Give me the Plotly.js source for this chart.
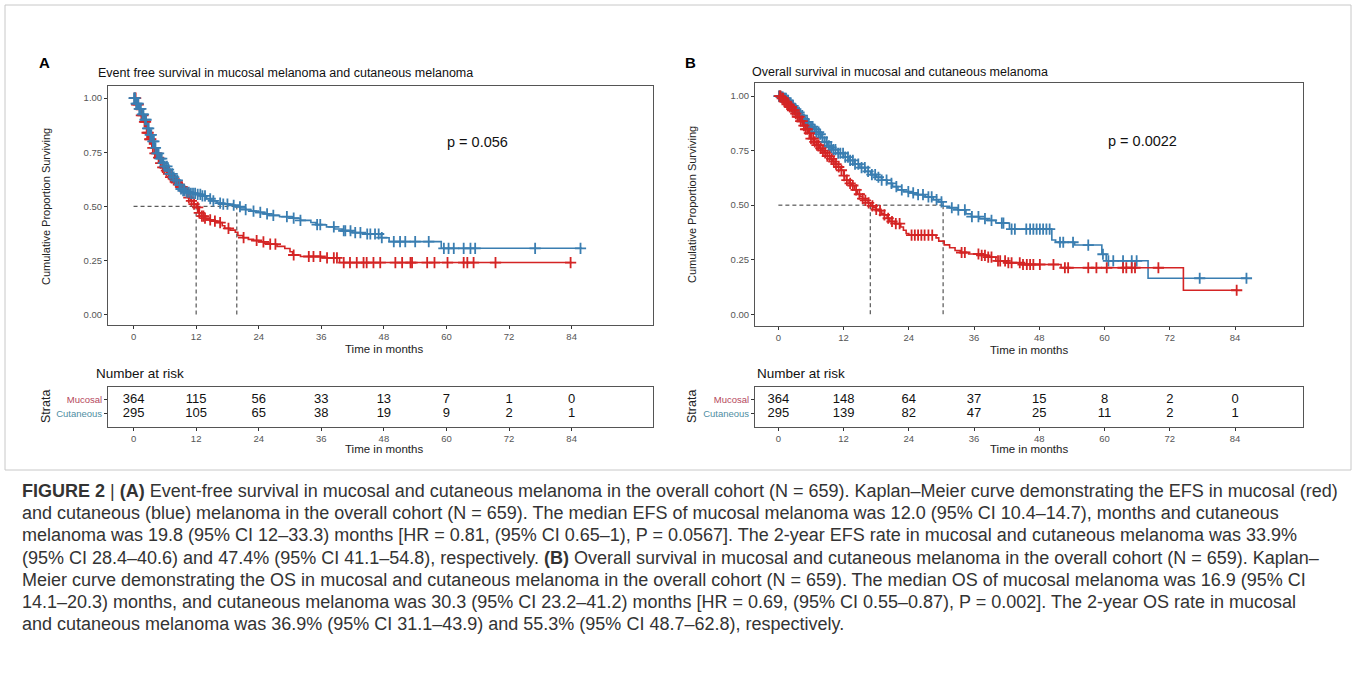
<!DOCTYPE html>
<html>
<head>
<meta charset="utf-8">
<script src="https://cdn.plot.ly/plotly-3.0.1.min.js"></script>
<style>
html,body{margin:0;padding:0;background:#fff;}
#chart{width:1356px;height:674px;}
</style>
</head>
<body>
<div id="chart"></div>
<script>
// ---------------- DATA ----------------
// Panel A: Event free survival (KM step points: time in months, survival)
const efsMucosalTime = [0,0.5,1,1.5,2,2.5,3,3.5,4,4.5,5,5.5,6,6.5,7,7.5,8,8.5,9,9.5,10,10.5,11,11.5,12,12.5,13,13.5,14,15,16,17,17.5,18.5,19.5,20,21,22,23,24,25,26,27.5,29,30,30.5,32,36,39.5,84];
const efsMucosalSurv = [1,0.97,0.95,0.92,0.89,0.84,0.81,0.77,0.745,0.725,0.70,0.68,0.665,0.65,0.635,0.625,0.61,0.60,0.59,0.578,0.565,0.54,0.525,0.51,0.495,0.47,0.455,0.445,0.437,0.432,0.425,0.41,0.398,0.39,0.38,0.365,0.355,0.347,0.342,0.336,0.33,0.325,0.315,0.305,0.29,0.275,0.268,0.262,0.24,0.24];
const efsMucosalCensor = [0.2,0.4,0.6,0.9,1.2,1.5,1.8,2.1,2.3,2.6,2.8,3.1,3.3,3.7,4.1,4.4,4.8,5.2,5.6,5.9,6.3,6.7,7.1,7.4,7.8,8.2,8.6,9.0,9.3,9.7,10.2,10.6,11.1,11.6,12.3,12.6,13.1,13.4,13.7,14.7,15.6,16.6,18.2,21.1,23.6,24.9,26.2,27.2,30.7,33.6,34.5,35.8,37.1,38.4,39,40.3,41.5,42.8,44.1,44.7,46,47.3,50.2,51.5,53.1,53.4,56.3,57.7,60.2,63.3,64,65.2,69.4,83.8];

const efsCutaneousTime = [0,0.5,1,1.5,2,2.5,3,3.5,4,4.5,5,5.5,6,6.5,7,7.5,8,8.5,9,9.5,10,11,12,13,14,15,16,17,18.5,19.5,20.5,21.5,22.5,23.5,25,26,28,30.5,32,34,35,37,38.5,40,42,44,47.5,49,59,86];
const efsCutaneousSurv = [1,0.975,0.95,0.925,0.90,0.86,0.83,0.80,0.77,0.745,0.72,0.70,0.685,0.67,0.65,0.635,0.62,0.60,0.58,0.572,0.565,0.56,0.555,0.548,0.535,0.525,0.515,0.51,0.505,0.498,0.492,0.485,0.478,0.472,0.465,0.458,0.452,0.445,0.435,0.425,0.415,0.405,0.395,0.387,0.378,0.372,0.355,0.337,0.306,0.306];
const efsCutaneousCensor = [0.1,0.3,0.5,0.7,0.9,1.1,1.4,1.7,1.9,2.2,2.4,2.7,2.9,3.2,3.4,3.7,3.9,4.2,4.5,4.8,5.1,5.4,5.7,6.0,6.4,6.7,7.0,7.4,7.7,8.1,8.4,8.8,9.1,9.5,9.8,10.2,10.6,11.0,11.4,11.8,12.3,12.8,13.2,13.7,14.7,15.3,16.6,17.2,18.0,19.2,20.4,21.5,23,24.3,25.6,26.8,29.4,30.7,32,35.2,35.8,38.4,40.3,40.6,41.6,42.5,43.5,44.8,45.4,46.3,47,47.6,49.9,51.1,52.1,54,56.6,59.5,60.4,61.4,63.3,64.6,65.5,77,85.7];

// Panel B: Overall survival
const osMucosalTime = [0,0.5,1,1.5,2,2.5,3,3.5,4,4.5,5,5.5,6,6.5,7,7.5,8,8.5,9,9.5,10,10.5,11,11.5,12,12.5,13,13.5,14,14.5,15,15.5,16,16.5,17,17.5,18,18.5,19,19.5,20,20.5,21.5,22.5,23,23.5,24,29,29.5,30.5,31.5,32.5,33.5,35,37,38.5,40,42,44.5,52,74.5,84.3];
const osMucosalSurv = [1,0.99,0.975,0.962,0.95,0.935,0.92,0.905,0.885,0.865,0.848,0.83,0.805,0.79,0.775,0.76,0.75,0.74,0.725,0.712,0.70,0.688,0.675,0.66,0.635,0.615,0.60,0.59,0.57,0.55,0.54,0.53,0.522,0.51,0.497,0.49,0.48,0.475,0.462,0.455,0.44,0.425,0.415,0.40,0.385,0.37,0.363,0.35,0.335,0.318,0.305,0.292,0.283,0.276,0.27,0.262,0.245,0.236,0.228,0.213,0.11,0.11];
const osMucosalCensor = [0.2,0.4,0.7,0.9,1.1,1.4,1.6,1.9,2.1,2.4,2.6,2.9,3.2,3.5,3.8,4.1,4.4,4.7,5.0,5.3,5.7,6.0,6.4,6.7,7.1,7.4,7.8,8.2,8.6,9.0,9.4,9.8,10.2,10.6,11.1,11.6,12.1,12.6,13.2,13.7,14.3,14.9,15.5,16.0,16.6,17.3,18,18.7,19.5,20.2,20.9,21.6,22.3,24.5,25.1,25.7,26.3,26.9,27.6,28.3,33.7,34.3,36.8,37.4,38,38.6,39.2,40.4,40.8,41.7,42.3,42.9,44.4,45,45.7,46.3,46.9,48.1,50.6,52.7,53.3,57,58.5,60.4,63.4,64,65,65.6,69.9,84.3];

const osCutaneousTime = [0,0.5,1,1.5,2,2.5,3,3.5,4,4.5,5,5.5,6,6.5,7,7.5,8,8.5,9,9.5,10,11,12,13,14,15,16,17,18,19,20,21,22,23,24,25.5,27,28.5,29.5,30.3,31.5,33,34.5,35.5,37,38.5,40,42.5,50.3,51,54.5,59.5,60.3,68,86.1];
const osCutaneousSurv = [1,0.995,0.99,0.98,0.965,0.955,0.94,0.925,0.91,0.895,0.882,0.87,0.86,0.848,0.835,0.825,0.81,0.79,0.772,0.765,0.755,0.738,0.72,0.705,0.688,0.672,0.655,0.64,0.628,0.615,0.60,0.585,0.57,0.562,0.556,0.548,0.538,0.525,0.515,0.495,0.488,0.478,0.46,0.447,0.438,0.43,0.418,0.39,0.34,0.33,0.317,0.275,0.245,0.165,0.165];
const osCutaneousCensor = [0.1,0.3,0.5,0.6,0.8,1.0,1.2,1.4,1.6,1.8,2.0,2.2,2.5,2.7,3.0,3.2,3.5,3.8,4.1,4.4,4.7,5.0,5.3,5.6,6.0,6.3,6.7,7.0,7.4,7.7,8.1,8.5,8.9,9.3,9.7,10.1,10.5,11.0,11.4,11.9,12.3,12.8,13.2,13.7,14.1,14.7,15.3,15.9,16.5,17.2,17.8,18.4,19,19.9,20.8,21.7,22.7,23.9,24.8,25.7,26.6,27.6,28.2,29.1,30,31.9,33.1,34.3,35.6,36.8,38,39.2,41.1,41.4,42.9,43.5,45.6,46.3,46.9,47.5,48.1,48.7,49.3,49.9,51.8,52.4,54.2,57,59.7,60.7,61.6,63.4,65,65.9,77.5,86.1];

// Medians
const efsMedians = [12.0, 19.8];
const osMedians = [16.9, 30.3];

// Number at risk
const riskTimes = [0,12,24,36,48,60,72,84];
const efsRiskMucosal = [364,115,56,33,13,7,1,0];
const efsRiskCutaneous = [295,105,65,38,19,9,2,1];
const osRiskMucosal = [364,148,64,37,15,8,2,0];
const osRiskCutaneous = [295,139,82,47,25,11,2,1];

const yTickVals = [0,0.25,0.5,0.75,1];
const yTickText = ["0.00","0.25","0.50","0.75","1.00"];
const strataLabels = ["Mucosal","Cutaneous"];

const titleA = "Event free survival in mucosal melanoma and cutaneous melanoma";
const titleB = "Overall survival in mucosal and cutaneous melanoma";
const pA = "p = 0.056";
const pB = "p = 0.0022";

const captionLines = [
 "<b>FIGURE 2</b> | <b>(A)</b> Event-free survival in mucosal and cutaneous melanoma in the overall cohort (N = 659). Kaplan–Meier curve demonstrating the EFS in mucosal (red)",
 "and cutaneous (blue) melanoma in the overall cohort (N = 659). The median EFS of mucosal melanoma was 12.0 (95% CI 10.4–14.7), months and cutaneous",
 "melanoma was 19.8 (95% CI 12–33.3) months [HR = 0.81, (95% CI 0.65–1), P = 0.0567]. The 2-year EFS rate in mucosal and cutaneous melanoma was 33.9%",
 "(95% CI 28.4–40.6) and 47.4% (95% CI 41.1–54.8), respectively. <b>(B)</b> Overall survival in mucosal and cutaneous melanoma in the overall cohort (N = 659). Kaplan–",
 "Meier curve demonstrating the OS in mucosal and cutaneous melanoma in the overall cohort (N = 659). The median OS of mucosal melanoma was 16.9 (95% CI",
 "14.1–20.3) months, and cutaneous melanoma was 30.3 (95% CI 23.2–41.2) months [HR = 0.69, (95% CI 0.55–0.87), P = 0.002]. The 2-year OS rate in mucosal",
 "and cutaneous melanoma was 36.9% (95% CI 31.1–43.9) and 55.3% (95% CI 48.7–62.8), respectively."
];

// ---------------- STYLE ----------------
const W = 1356, H = 674;
const RED = '#d42424', BLUE = '#3a7eb1';
const FONT = 'Liberation Sans, Arial, sans-serif';
const px = v => v / W;
const py = v => 1 - v / H;

function stepAt(times, surv, t) {
  let s = surv[0];
  for (let i = 0; i < times.length; i++) { if (times[i] <= t) s = surv[i]; else break; }
  return s;
}

function curve(times, surv, color, xa, ya) {
  return {x: times, y: surv, type: 'scatter', mode: 'lines', line: {shape: 'hv', color: color, width: 1.6},
          xaxis: xa, yaxis: ya, hoverinfo: 'skip', showlegend: false};
}
function censor(times, surv, cens, color, xa, ya) {
  return {x: cens, y: cens.map(t => stepAt(times, surv, t)), type: 'scatter', mode: 'markers',
          marker: {symbol: 'cross-thin', size: 8, line: {width: 1.8, color: color}, color: color},
          xaxis: xa, yaxis: ya, hoverinfo: 'skip', showlegend: false};
}
function medianLines(meds, xa, ya) {
  const out = [];
  out.push({x: [0, Math.max(...meds)], y: [0.5, 0.5], type: 'scatter', mode: 'lines',
            line: {color: '#333', width: 1, dash: '4px,3px'}, xaxis: xa, yaxis: ya, hoverinfo: 'skip', showlegend: false});
  meds.forEach(m => out.push({x: [m, m], y: [0, 0.5], type: 'scatter', mode: 'lines',
            line: {color: '#333', width: 1, dash: '4px,3px'}, xaxis: xa, yaxis: ya, hoverinfo: 'skip', showlegend: false}));
  return out;
}
function riskText(vals, row, xa, ya) {
  return {x: riskTimes, y: riskTimes.map(() => row), text: vals.map(String), type: 'scatter', mode: 'text',
          textfont: {family: FONT, size: 13, color: '#111'}, textposition: 'middle center',
          xaxis: xa, yaxis: ya, hoverinfo: 'skip', showlegend: false};
}

const traces = [
  ...medianLines(efsMedians, 'x', 'y'),
  curve(efsCutaneousTime, efsCutaneousSurv, BLUE, 'x', 'y'),
  curve(efsMucosalTime, efsMucosalSurv, RED, 'x', 'y'),
  censor(efsMucosalTime, efsMucosalSurv, efsMucosalCensor, RED, 'x', 'y'),
  censor(efsCutaneousTime, efsCutaneousSurv, efsCutaneousCensor, BLUE, 'x', 'y'),
  riskText(efsRiskMucosal, 1, 'x2', 'y2'),
  riskText(efsRiskCutaneous, 0, 'x2', 'y2'),
  ...medianLines(osMedians, 'x3', 'y3'),
  curve(osCutaneousTime, osCutaneousSurv, BLUE, 'x3', 'y3'),
  curve(osMucosalTime, osMucosalSurv, RED, 'x3', 'y3'),
  censor(osCutaneousTime, osCutaneousSurv, osCutaneousCensor, BLUE, 'x3', 'y3'),
  censor(osMucosalTime, osMucosalSurv, osMucosalCensor, RED, 'x3', 'y3'),
  riskText(osRiskMucosal, 1, 'x4', 'y4'),
  riskText(osRiskCutaneous, 0, 'x4', 'y4')
];

const tickFont = {family: FONT, size: 9.5, color: '#555'};
function xAxis(dom, range, anchor) {
  return {domain: dom, range: range, anchor: anchor, tickvals: riskTimes, ticktext: riskTimes.map(String),
          ticks: 'outside', ticklen: 3, tickcolor: '#333', tickwidth: 1, tickfont: tickFont,
          showline: true, mirror: true, linecolor: '#555', linewidth: 1, showgrid: false, zeroline: false, fixedrange: true};
}
function yAxisMain(dom, range, anchor) {
  return {domain: dom, range: range, anchor: anchor, tickvals: yTickVals, ticktext: yTickText,
          ticks: 'outside', ticklen: 3, tickcolor: '#333', tickwidth: 1, tickfont: tickFont,
          showline: true, mirror: true, linecolor: '#555', linewidth: 1, showgrid: false, zeroline: false, fixedrange: true};
}
function yAxisTable(dom, anchor) {
  return {domain: dom, range: [-0.93, 1.86], anchor: anchor, tickvals: [1, 0],
          ticktext: ["<span style='color:#b5475c'>" + strataLabels[0] + "</span>", "<span style='color:#4f8ea3'>" + strataLabels[1] + "</span>"],
          ticks: 'outside', ticklen: 3, tickcolor: '#333', tickwidth: 1, tickfont: {family: FONT, size: 9.5, color: '#555'},
          showline: true, mirror: true, linecolor: '#555', linewidth: 1, showgrid: false, zeroline: false, fixedrange: true};
}

const domA = [px(108), px(653)];
const domB = [px(755), px(1303)];
const domMainA = [py(325), py(86)];
const domMainB = [py(326), py(83)];
const domTable = [py(427), py(387)];

function ann(text, x, y, opts) {
  return Object.assign({text: text, x: px(x), y: py(y), xref: 'paper', yref: 'paper', showarrow: false,
                        font: {family: FONT, size: 12, color: '#111'}, xanchor: 'left', yanchor: 'middle'}, opts || {});
}

const annotations = [
  ann('<b>A</b>', 37, 63, {font: {family: FONT, size: 15, color: '#000'}}),
  ann('<b>B</b>', 683, 63, {font: {family: FONT, size: 15, color: '#000'}}),
  ann(titleA, 96, 73, {font: {family: FONT, size: 12.5, color: '#111'}}),
  ann(titleB, 750, 72, {font: {family: FONT, size: 12.5, color: '#111'}}),
  ann(pA, 445, 142, {font: {family: FONT, size: 14.5, color: '#111'}}),
  ann(pB, 1106, 141, {font: {family: FONT, size: 14.5, color: '#111'}}),
  ann('Cumulative Proportion Surviving', 46, 207, {textangle: -90, xanchor: 'center', font: {family: FONT, size: 11, color: '#222'}}),
  ann('Cumulative Proportion Surviving', 692, 205, {textangle: -90, xanchor: 'center', font: {family: FONT, size: 11, color: '#222'}}),
  ann('Time in months', 384, 349, {xanchor: 'center', font: {family: FONT, size: 11.5, color: '#222'}}),
  ann('Time in months', 1029, 350, {xanchor: 'center', font: {family: FONT, size: 11.5, color: '#222'}}),
  ann('Number at risk', 94, 374, {font: {family: FONT, size: 13.5, color: '#111'}}),
  ann('Number at risk', 755, 374, {font: {family: FONT, size: 13.5, color: '#111'}}),
  ann('Strata', 46, 407, {textangle: -90, xanchor: 'center', font: {family: FONT, size: 12.5, color: '#222'}}),
  ann('Strata', 692, 407, {textangle: -90, xanchor: 'center', font: {family: FONT, size: 12.5, color: '#222'}}),
  ann('Time in months', 384, 449, {xanchor: 'center', font: {family: FONT, size: 11.5, color: '#222'}}),
  ann('Time in months', 1029, 449, {xanchor: 'center', font: {family: FONT, size: 11.5, color: '#222'}})
];
captionLines.forEach((line, i) => {
  annotations.push(ann(line, 20, 491 + i * 22.2, {font: {family: FONT, size: 18, color: '#333'}}));
});

const layout = {
  width: W, height: H, margin: {l: 0, r: 0, t: 0, b: 0}, paper_bgcolor: '#fff', plot_bgcolor: '#fff',
  showlegend: false,
  xaxis: xAxis(domA, [-4.9, 99.6], 'y'),
  yaxis: yAxisMain(domMainA, [-0.0485, 1.056], 'x'),
  xaxis2: xAxis(domA, [-4.9, 99.6], 'y2'),
  yaxis2: yAxisTable(domTable, 'x2'),
  xaxis3: xAxis(domB, [-4.3, 96.5], 'y3'),
  yaxis3: yAxisMain(domMainB, [-0.054, 1.06], 'x3'),
  xaxis4: xAxis(domB, [-4.3, 96.5], 'y4'),
  yaxis4: yAxisTable(domTable, 'x4'),
  annotations: annotations,
  shapes: [
    {type: 'rect', xref: 'paper', yref: 'paper', x0: px(5), x1: px(1351), y0: py(470), y1: py(5), line: {color: '#c8c8c8', width: 1}}
  ]
};

Plotly.newPlot('chart', traces, layout, {staticPlot: true, displayModeBar: false});
</script>
</body>
</html>
